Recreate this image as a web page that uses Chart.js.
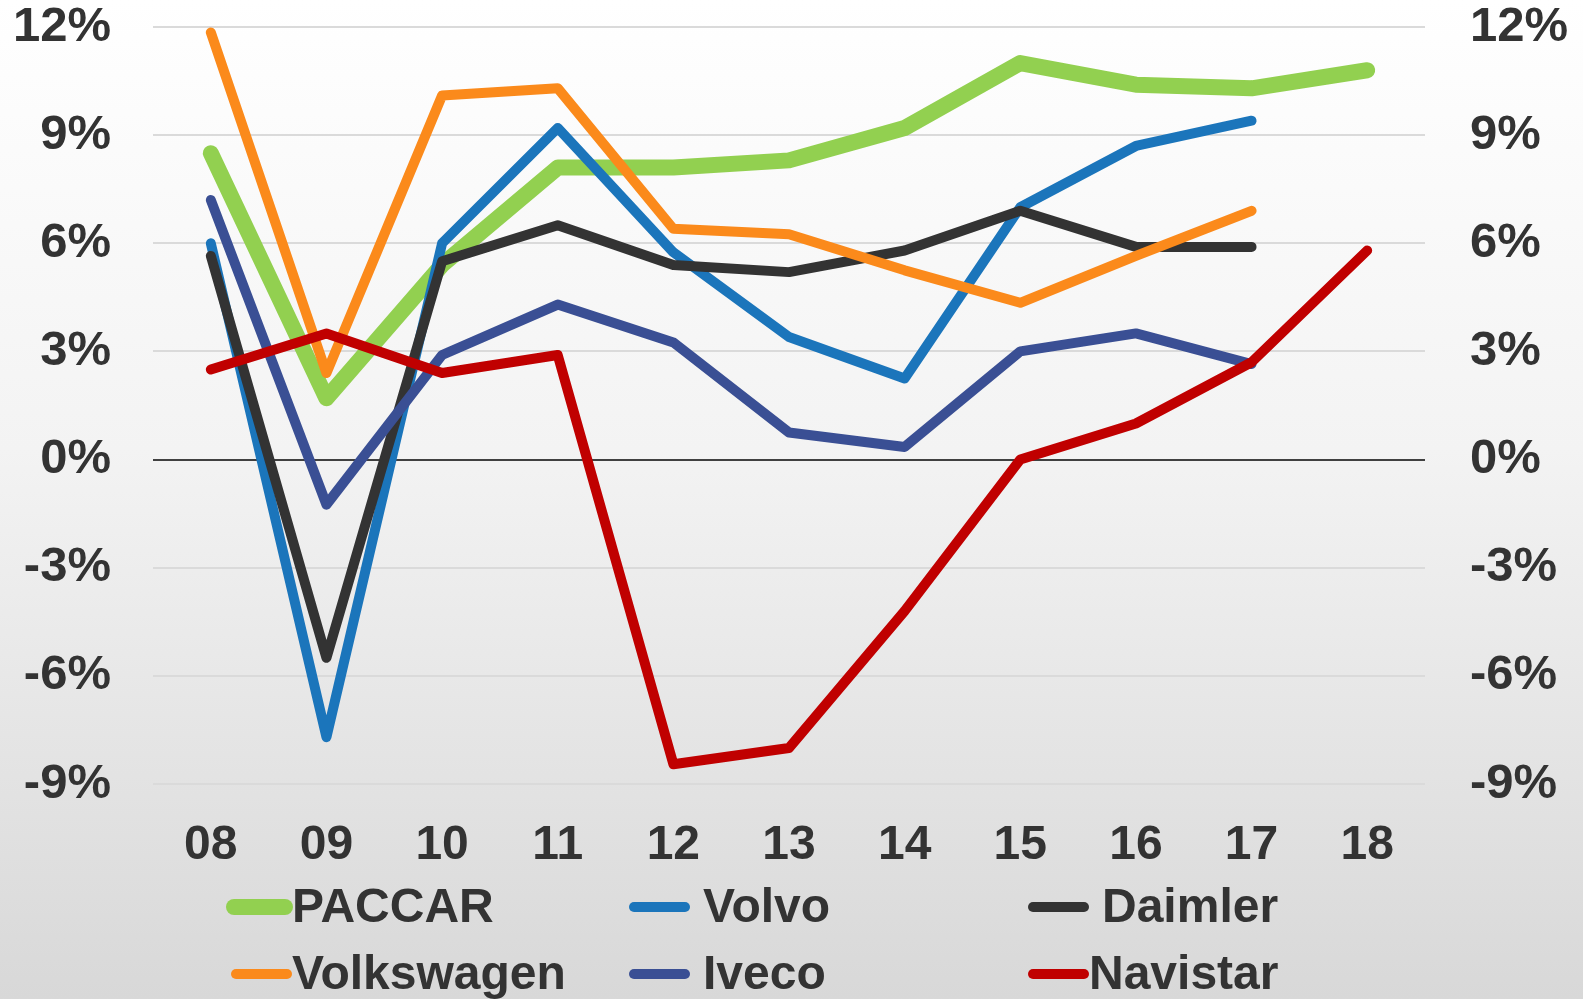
<!DOCTYPE html>
<html>
<head>
<meta charset="utf-8">
<script src="https://cdn.jsdelivr.net/npm/chart.js@4.4.1/dist/chart.umd.min.js"></script>
<style>
  html, body { margin: 0; padding: 0; }
  body {
    width: 1583px; height: 999px; overflow: hidden;
    background: linear-gradient(to bottom, #ffffff 0%, #f3f3f3 45%, #d8d8d8 100%);
  }
  #wrap { position: relative; width: 1583px; height: 999px; }
</style>
</head>
<body>
<div id="wrap"><canvas id="chart"></canvas></div>
<script>
// Operating margin by truck maker, 2008-2018 (%)
const years = ["08", "09", "10", "11", "12", "13", "14", "15", "16", "17", "18"];

const paccar     = [8.5, 1.7, 5.4, 8.1, 8.1, 8.3, 9.2, 11.0, 10.4, 10.3, 10.8];
const volvo      = [6.0, -7.7, 6.0, 9.2, 5.75, 3.4, 2.25, 7.0, 8.7, 9.4, null];
const daimler    = [5.65, -5.5, 5.5, 6.5, 5.4, 5.2, 5.8, 6.9, 5.9, 5.9, null];
const volkswagen = [11.85, 2.4, 10.1, 10.3, 6.4, 6.25, 5.25, 4.35, 5.65, 6.9, null];
const iveco      = [7.2, -1.25, 2.9, 4.3, 3.25, 0.75, 0.35, 3.0, 3.5, 2.65, null];
const navistar   = [2.5, 3.5, 2.4, 2.9, -8.45, -8.0, -4.2, 0.0, 1.0, 2.7, 5.8];

const yTicks = [-9, -6, -3, 0, 3, 6, 9, 12];

const FONT = "'Liberation Sans', Arial, sans-serif";
const TEXT = "#333333";

const series = [
  { label: "PACCAR",     data: paccar,     color: "#92d050", width: 16 },
  { label: "Volvo",      data: volvo,      color: "#1b75bb", width: 10 },
  { label: "Daimler",    data: daimler,    color: "#333333", width: 10 },
  { label: "Volkswagen", data: volkswagen, color: "#fb8a1b", width: 10 },
  { label: "Iveco",      data: iveco,      color: "#3a4f94", width: 10 },
  { label: "Navistar",   data: navistar,   color: "#c00000", width: 10 },
];

// legend grid: 3 columns x 2 rows (sample start, text start)
const legendCols = [
  { sx: 229, tx: 292 }, { sx: 629, tx: 703 }, { sx: 1028, tx: 1102 },
  { sx: 231, tx: 292 }, { sx: 629, tx: 703 }, { sx: 1028, tx: 1089 },
];
const legendRows = [907, 974];

const gridLegend = {
  id: "gridLegend",
  afterDraw(chart) {
    const ctx = chart.ctx;
    ctx.save();
    ctx.font = "bold 48px " + FONT;
    ctx.textBaseline = "middle";
    ctx.textAlign = "left";
    chart.data.datasets.forEach((ds, i) => {
      const pos = legendCols[i];
      const y = legendRows[Math.floor(i / 3)];
      ctx.strokeStyle = ds.borderColor;
      ctx.lineWidth = ds.borderWidth;
      ctx.lineCap = "round";
      ctx.beginPath();
      ctx.moveTo(pos.sx + 5, y);
      ctx.lineTo(pos.sx + 56, y);
      ctx.stroke();
      ctx.fillStyle = TEXT;
      ctx.fillText(ds.label, pos.tx, y + 2);
    });
    ctx.restore();
  }
};

const pct = v => v + "%";

// keep the plot area flush with the 12% gridline
const vPad = s => { s.paddingTop = 27; s.paddingBottom = 27; };

new Chart(document.getElementById("chart"), {
  type: "line",
  data: {
    labels: years,
    datasets: series.map((s, i) => ({
      label: s.label,
      data: s.data,
      borderColor: s.color,
      backgroundColor: s.color,
      borderWidth: s.width,
      borderCapStyle: "round",
      borderJoinStyle: "round",
      pointRadius: 0,
      tension: 0,
      fill: false,
      order: series.length - i,
    })),
  },
  options: {
    responsive: true,
    maintainAspectRatio: false,
    animation: false,
    layout: { padding: { top: 0, left: 0, right: 0, bottom: 125 } },
    plugins: {
      legend: { display: false },
      tooltip: { enabled: false },
    },
    scales: {
      x: {
        offset: true,
        grid: { display: false },
        border: { display: false },
        ticks: {
          color: TEXT,
          padding: 25,
          font: { family: FONT, size: 48, weight: "bold" },
          maxRotation: 0,
        },
        afterFit: s => { s.height = 90; },
      },
      y: {
        position: "left",
        min: -9,
        max: 12,
        afterBuildTicks: s => { s.ticks = yTicks.map(v => ({ value: v })); },
        grid: {
          drawTicks: false,
          lineWidth: 2,
          color: c => (c.tick && c.tick.value === 0 ? "#404040" : "#dadada"),
        },
        border: { display: false },
        ticks: {
          color: TEXT,
          padding: 42,
          callback: pct,
          font: { family: FONT, size: 49, weight: "bold" },
        },
        afterFit: s => { s.width = 153; vPad(s); },
      },
      y2: {
        position: "right",
        min: -9,
        max: 12,
        afterBuildTicks: s => { s.ticks = yTicks.map(v => ({ value: v })); },
        grid: { display: false, drawTicks: false },
        border: { display: false },
        ticks: {
          color: TEXT,
          padding: 45,
          callback: pct,
          font: { family: FONT, size: 49, weight: "bold" },
        },
        afterFit: s => { s.width = 158; vPad(s); },
      },
    },
  },
  plugins: [gridLegend],
});
</script>
</body>
</html>
